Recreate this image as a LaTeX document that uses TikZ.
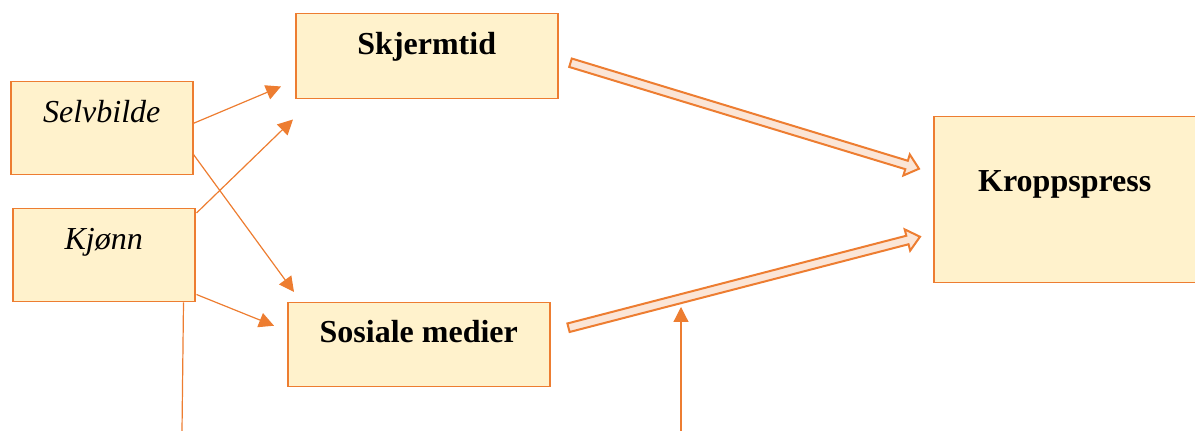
\documentclass[tikz,border=0pt]{standalone}
\usepackage{fontspec}
\setmainfont{Liberation Serif}
\usetikzlibrary{calc, arrows.meta}

\definecolor{boxfill}{HTML}{FFF2CC}
\definecolor{boxline}{HTML}{ED7D31}
\definecolor{pilfill}{HTML}{FBE5D6}

% hollow block arrow from #1 to #2
\newcommand{\blokkpil}[2]{%
  \coordinate (hb) at ($(#2)!6.5pt!(#1)$);
  \filldraw[fatpil] ($(#1)!2.2pt!90:(#2)$) -- ($(hb)!2.2pt!90:(#2)$) -- ($(hb)!5.5pt!90:(#2)$)
    -- (#2) -- ($(hb)!5.5pt!-90:(#2)$) -- ($(hb)!2.2pt!-90:(#2)$) -- ($(#1)!2.2pt!-90:(#2)$) -- cycle;
}

\begin{document}
\begin{tikzpicture}[x=0.5pt, y=-0.5pt, font=\fontsize{16}{19}\selectfont]
        \tikzstyle{box} = [draw=boxline, line width=0.75pt, fill=boxfill, inner sep=0pt, anchor=north west]
        \tikzstyle{smallbox} = [box, minimum width=91pt, text height=20.5pt, text depth=26pt, font=\fontsize{16}{19}\selectfont\itshape]
        \tikzstyle{bigbox} = [box, minimum width=131pt, font=\fontsize{16}{19}\selectfont\bfseries]
        \tikzstyle{tynnpil} = [draw=boxline, line width=0.6pt, -{Triangle[length=7.5pt, width=7.5pt]}]
        \tikzstyle{fatpil} = [draw=boxline, line width=1pt, fill=pilfill, line join=miter]
    \useasboundingbox (0,0) rectangle (1195,431);

    \node[smallbox] (selvbilde) at (10,81) {Selvbilde};
    \node[smallbox] (kjonn) at (12,208) {Kjønn};
    \node[bigbox, text height=20.5pt, text depth=22pt] (skjermtid) at (295,13) {Skjermtid};
    \node[bigbox, text height=20pt, text depth=22pt] (sosiale) at (287,302) {Sosiale medier};
    \node[bigbox, text height=37.5pt, text depth=45.5pt] (kropp) at (933,116) {Kroppspress};

    \coordinate (bunn1) at (182,431);
    \coordinate (bunn2) at (681,431);
    \coordinate (midt) at (681,307);

    % thin arrows
    \draw[tynnpil] ($(selvbilde.east)+(-1,-4.5)$) -- ($(skjermtid.south west)+(-14,-13)$);
    \draw[tynnpil] ($(selvbilde.south east)+(0,-21)$) -- ($(sosiale.north west)+(7,-10)$);
    \draw[tynnpil] ($(kjonn.north east)+(1,5)$) -- ($(skjermtid.south west)+(-2,20)$);
    \draw[tynnpil] ($(kjonn.south east)+(1,-8)$) -- ($(sosiale.west)+(-13,-19)$);
    \draw[draw=boxline, line width=0.6pt] ($(kjonn.south east)+(-12,0)$) -- (bunn1);
    \draw[tynnpil] (bunn2) -- (midt);

    % block arrows
    \coordinate (a1) at ($(skjermtid.east)+(12,6.5)$);
    \coordinate (b1) at ($(kropp.west)+(-14,-31)$);
    \blokkpil{a1}{b1}
    \coordinate (a2) at ($(sosiale.east)+(18,-17)$);
    \coordinate (b2) at ($(kropp.west)+(-13,37)$);
    \blokkpil{a2}{b2}

  \end{tikzpicture}
\end{document}
